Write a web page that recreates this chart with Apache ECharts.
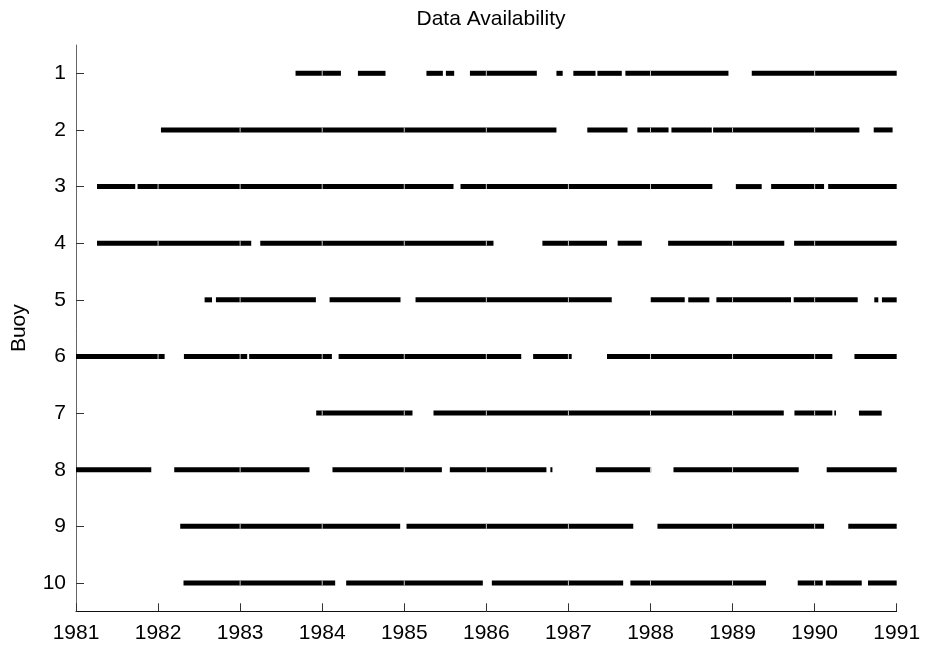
<!DOCTYPE html>
<html>
<head>
<meta charset="utf-8">
<script src="https://cdn.jsdelivr.net/npm/echarts@6/dist/echarts.min.js"></script>
<style>html,body{margin:0;padding:0;background:#fff}#c{width:925px;height:645px}</style>
</head>
<body>
<div id="c"></div>
<script>
const title = 'Data Availability';
const yName = 'Buoy';
const buoyLabels = ['1','2','3','4','5','6','7','8','9','10'];
const yearMin = 1981, yearMax = 1991;

// Data segments [start year, end year] per buoy
const buoy1 = [[1983.675,1984.228],[1984.435,1984.771],[1985.27,1985.47],[1985.507,1985.608],[1985.80,1986.615],[1986.854,1986.93],[1987.06,1987.33],[1987.353,1987.65],[1987.694,1988.95],[1989.234,1991.0]];
const buoy2 = [[1982.035,1986.854],[1987.23,1987.72],[1987.84,1988.22],[1988.255,1988.747],[1988.763,1990.545],[1990.72,1990.95]];
const buoy3 = [[1981.256,1981.722],[1981.75,1985.6],[1985.685,1988.754],[1989.04,1989.355],[1989.47,1990.115],[1990.165,1991.0]];
const buoy4 = [[1981.256,1983.135],[1983.245,1986.087],[1986.683,1987.47],[1987.6,1987.894],[1988.215,1989.63],[1989.75,1991.0]];
const buoy5 = [[1982.567,1982.657],[1982.705,1983.923],[1984.09,1984.954],[1985.137,1987.528],[1988.003,1988.417],[1988.46,1988.717],[1988.803,1989.712],[1989.745,1990.525],[1990.727,1990.776],[1990.82,1991.0]];
const buoy6 = [[1981.0,1982.08],[1982.315,1983.086],[1983.11,1984.118],[1984.2,1986.425],[1986.57,1987.04],[1987.47,1990.216],[1990.485,1991.0]];
const buoy7 = [[1983.927,1985.1],[1985.356,1989.624],[1989.754,1990.216],[1990.24,1990.26],[1990.54,1990.817]];
const buoy8 = [[1981.0,1981.917],[1982.197,1983.845],[1984.125,1985.458],[1985.555,1986.732],[1986.78,1986.805],[1987.334,1988.008],[1988.28,1989.806],[1990.147,1991.0]];
const buoy9 = [[1982.27,1984.95],[1985.027,1987.79],[1988.085,1990.115],[1990.41,1991.0]];
const buoy10 = [[1982.31,1984.158],[1984.292,1985.957],[1986.067,1987.667],[1987.755,1989.408],[1989.794,1990.099],[1990.136,1990.574],[1990.65,1991.0]];

const allBuoys = [buoy1,buoy2,buoy3,buoy4,buoy5,buoy6,buoy7,buoy8,buoy9,buoy10];
const data = [];
allBuoys.forEach((segs, i) => segs.forEach(s => data.push([i, s[0], s[1]])));

const FONT = '"Liberation Sans", Helvetica, Arial, sans-serif';
const chart = echarts.init(document.getElementById('c'), null, {renderer: 'canvas'});

function renderItem(params, api) {
  const idx = api.value(0);
  const s = api.value(1), e = api.value(2);
  const p0 = api.coord([s, idx]);
  const p1 = api.coord([e, idx]);
  const h = 5;
  const children = [{
    type: 'rect',
    shape: {x: p0[0], y: p0[1] - h / 2, width: Math.max(p1[0] - p0[0], 1.5), height: h},
    style: {fill: '#000'}
  }];
  for (let yr = Math.ceil(s); yr < e; yr++) {
    if (yr <= s) continue;
    const px = api.coord([yr, idx])[0];
    children.push({
      type: 'line',
      shape: {x1: px, y1: p0[1] - h / 2, x2: px, y2: p0[1] + h / 2},
      style: {stroke: '#c8c8c8', lineWidth: 1}
    });
  }
  return {type: 'group', children};
}

chart.setOption({
  animation: false,
  backgroundColor: '#fff',
  title: {
    text: title,
    left: 486, top: 4, textAlign: 'center',
    textStyle: {fontFamily: FONT, fontSize: 21, fontWeight: 'normal', color: '#000'}
  },
  grid: {left: 76, right: 28.3, top: 45, bottom: 33.7, containLabel: false, outerBoundsMode: 'none'},
  xAxis: {
    type: 'value', min: yearMin, max: yearMax, interval: 1,
    axisLine: {show: true, onZero: false, lineStyle: {color: '#111', width: 1}},
    axisTick: {show: true, inside: true, length: 8, lineStyle: {color: '#333'}},
    axisLabel: {
      margin: 11, fontFamily: FONT, fontSize: 21, color: '#000',
      formatter: v => String(v), showMinLabel: true, showMaxLabel: true
    },
    splitLine: {show: false}
  },
  yAxis: {
    type: 'category', data: buoyLabels, inverse: true,
    name: yName, nameLocation: 'middle', nameGap: 46,
    nameTextStyle: {fontFamily: FONT, fontSize: 21, color: '#000'},
    axisLine: {show: true, lineStyle: {color: '#666', width: 1}},
    axisTick: {show: true, inside: true, length: 8, alignWithLabel: true, lineStyle: {color: '#333'}},
    axisLabel: {margin: 10, fontFamily: FONT, fontSize: 21, color: '#000'},
    splitLine: {show: false}
  },
  series: [{
    type: 'custom',
    renderItem: renderItem,
    encode: {x: [1, 2], y: 0},
    data: data,
    clip: false
  }]
});
</script>
</body>
</html>
